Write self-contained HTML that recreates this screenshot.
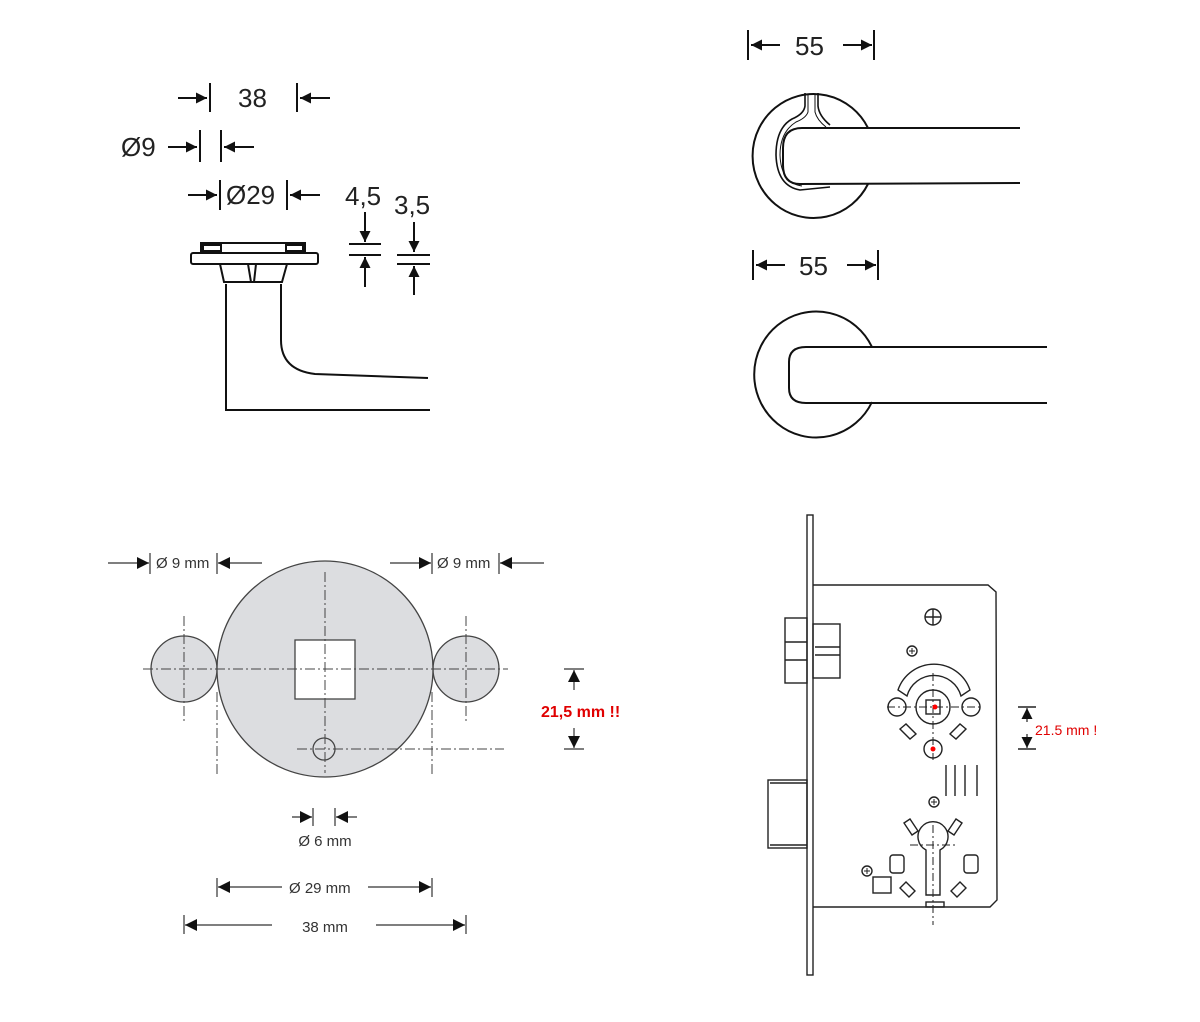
<!DOCTYPE html>
<html><head><meta charset="utf-8"><style>
html,body{margin:0;padding:0;background:#fff;}
svg{display:block;}
text{font-family:"Liberation Sans","DejaVu Sans",sans-serif;}
</style></head><body>
<svg width="1200" height="1022" viewBox="0 0 1200 1022" xmlns="http://www.w3.org/2000/svg">
<defs>
<marker id="a" viewBox="0 0 10 10" refX="10" refY="5" markerWidth="12" markerHeight="11" markerUnits="userSpaceOnUse" orient="auto"><path d="M0,0 L10,5 L0,10z" fill="#111"/></marker>
<marker id="b" viewBox="0 0 10 10" refX="10" refY="5" markerWidth="14" markerHeight="12" markerUnits="userSpaceOnUse" orient="auto"><path d="M0,0 L10,5 L0,10z" fill="#111"/></marker>
</defs>

<!-- TOP LEFT -->
<g stroke="#111" stroke-width="2" fill="none">
<line x1="178" y1="98" x2="207" y2="98" marker-end="url(#a)"/>
<line x1="210" y1="83" x2="210" y2="112"/>
<line x1="297" y1="83" x2="297" y2="112"/>
<line x1="330" y1="98" x2="300" y2="98" marker-end="url(#a)"/>
<line x1="168" y1="147" x2="197" y2="147" marker-end="url(#a)"/>
<line x1="200" y1="130" x2="200" y2="162"/>
<line x1="221" y1="130" x2="221" y2="162"/>
<line x1="254" y1="147" x2="224" y2="147" marker-end="url(#a)"/>
<line x1="188" y1="195" x2="217" y2="195" marker-end="url(#a)"/>
<line x1="220" y1="180" x2="220" y2="210"/>
<line x1="287" y1="180" x2="287" y2="210"/>
<line x1="320" y1="195" x2="290" y2="195" marker-end="url(#a)"/>
<line x1="365" y1="212" x2="365" y2="242" marker-end="url(#a)"/>
<line x1="349" y1="244" x2="381" y2="244"/>
<line x1="349" y1="255" x2="381" y2="255"/>
<line x1="365" y1="287" x2="365" y2="257" marker-end="url(#a)"/>
<line x1="414" y1="222" x2="414" y2="252" marker-end="url(#a)"/>
<line x1="397" y1="255" x2="430" y2="255"/>
<line x1="397" y1="264" x2="430" y2="264"/>
<line x1="414" y1="295" x2="414" y2="266" marker-end="url(#a)"/>
<rect x="201" y="243" width="104" height="10"/>
<rect x="203" y="245" width="18" height="6"/>
<rect x="286" y="245" width="17" height="6"/>
<rect x="191" y="253" width="127" height="11" rx="2"/>
<path d="M220,264 L224,282 L282,282 L287,264"/>
<path d="M248,264 L251,282 M256,264 L254,282"/>
<path d="M226,284 L226,410 L430,410"/>
<path d="M281,284 L281,340 Q281,370 315,374 L428,378"/>
</g>
<g font-size="26" fill="#222">
<text x="238" y="107">38</text>
<text x="121" y="156">Ø9</text>
<text x="226" y="204">Ø29</text>
<text x="345" y="205">4,5</text>
<text x="394" y="214">3,5</text>
</g>

<!-- TOP RIGHT -->
<g stroke="#111" stroke-width="2" fill="none">
<line x1="748" y1="30" x2="748" y2="60"/>
<line x1="780" y1="45" x2="751" y2="45" marker-end="url(#a)"/>
<line x1="843" y1="45" x2="872" y2="45" marker-end="url(#a)"/>
<line x1="874" y1="30" x2="874" y2="60"/>
<path d="M868,128 A61,62 0 1 0 868,184"/>
<path d="M1020,128 L802,128 Q783,128 783,148 L783,165 Q783,184 800,184 L1020,183"/>
<path d="M805,93 L805,106 Q804,114 792,119 Q776,128 776,155 Q777,186 800,190 L830,187" stroke-width="1.6"/>
<path d="M818,93 L818,106 Q819,116 830,125" stroke-width="1.6"/>
<path d="M808,94 L808,112 Q806,118 796,122 Q780,132 780,155 Q781,183 802,186" stroke-width="1"/>
<path d="M815,94 L815,112 Q817,120 826,127" stroke-width="1"/>
<line x1="753" y1="250" x2="753" y2="280"/>
<line x1="785" y1="265" x2="756" y2="265" marker-end="url(#a)"/>
<line x1="847" y1="265" x2="876" y2="265" marker-end="url(#a)"/>
<line x1="878" y1="250" x2="878" y2="280"/>
<path d="M872,347 A62,63 0 1 0 872,402"/>
<path d="M1047,347 L806,347 Q789,347 789,362 L789,388 Q789,403 806,403 L1047,403"/>
</g>
<g font-size="26" fill="#222">
<text x="795" y="55">55</text>
<text x="799" y="275">55</text>
</g>

<!-- BOTTOM LEFT -->
<g stroke="#444" stroke-width="1.3" fill="#dcdde0">
<circle cx="184" cy="669" r="33"/>
<circle cx="466" cy="669" r="33"/>
<circle cx="325" cy="669" r="108"/>
<rect x="295" y="640" width="60" height="59" fill="#fff"/>
<circle cx="324" cy="749" r="11" fill="none"/>
</g>
<g stroke="#444" stroke-width="1" fill="none" stroke-dasharray="10,3,2,3">
<line x1="143" y1="669" x2="508" y2="669"/>
<line x1="325" y1="572" x2="325" y2="773"/>
<line x1="184" y1="616" x2="184" y2="723"/>
<line x1="466" y1="616" x2="466" y2="723"/>
<line x1="217" y1="692" x2="217" y2="777"/>
<line x1="432" y1="692" x2="432" y2="777"/>
<line x1="297" y1="749" x2="504" y2="749"/>
</g>
<g stroke="#333" stroke-width="1.2" fill="none">
<line x1="108" y1="563" x2="149" y2="563" marker-end="url(#b)"/>
<line x1="150" y1="553" x2="150" y2="574"/>
<line x1="217" y1="553" x2="217" y2="574"/>
<line x1="262" y1="563" x2="218" y2="563" marker-end="url(#b)"/>
<line x1="390" y1="563" x2="431" y2="563" marker-end="url(#b)"/>
<line x1="432" y1="553" x2="432" y2="574"/>
<line x1="499" y1="553" x2="499" y2="574"/>
<line x1="544" y1="563" x2="500" y2="563" marker-end="url(#b)"/>
<line x1="564" y1="669" x2="584" y2="669"/>
<line x1="564" y1="749" x2="584" y2="749"/>
<line x1="574" y1="690" x2="574" y2="670" marker-end="url(#b)"/>
<line x1="574" y1="728" x2="574" y2="748" marker-end="url(#b)"/>
<line x1="292" y1="817" x2="312" y2="817" marker-end="url(#b)"/>
<line x1="313" y1="808" x2="313" y2="826"/>
<line x1="335" y1="808" x2="335" y2="826"/>
<line x1="357" y1="817" x2="336" y2="817" marker-end="url(#b)"/>
<line x1="217" y1="878" x2="217" y2="897"/>
<line x1="282" y1="887" x2="218" y2="887" marker-end="url(#b)"/>
<line x1="368" y1="887" x2="431" y2="887" marker-end="url(#b)"/>
<line x1="432" y1="878" x2="432" y2="897"/>
<line x1="184" y1="915" x2="184" y2="934"/>
<line x1="272" y1="925" x2="185" y2="925" marker-end="url(#b)"/>
<line x1="376" y1="925" x2="465" y2="925" marker-end="url(#b)"/>
<line x1="466" y1="915" x2="466" y2="934"/>
</g>
<g font-size="15" fill="#333">
<text x="156" y="568">Ø 9 mm</text>
<text x="437" y="568">Ø 9 mm</text>
<text x="325" y="846" text-anchor="middle">Ø 6 mm</text>
<text x="289" y="893">Ø  29 mm</text>
<text x="325" y="932" text-anchor="middle">38 mm</text>
</g>
<text x="541" y="717" font-size="16" font-weight="bold" fill="#e00000">21,5 mm !!</text>

<!-- BOTTOM RIGHT: lock -->
<g stroke="#222" stroke-width="1.4" fill="none">
<rect x="807" y="515" width="6" height="460"/>
<path d="M813,585 L988,585 L996,592 L997,900 L990,907 L813,907"/>
<rect x="785" y="618" width="22" height="65"/>
<line x1="785" y1="642" x2="807" y2="642"/><line x1="785" y1="660" x2="807" y2="660"/>
<rect x="813" y="624" width="27" height="54"/>
<line x1="815" y1="647" x2="840" y2="647"/><line x1="815" y1="655" x2="840" y2="655"/>
<rect x="768" y="780" width="39" height="68"/>
<line x1="770" y1="783" x2="807" y2="783"/><line x1="770" y1="845" x2="807" y2="845"/>
<circle cx="933" cy="617" r="8"/><path d="M925,617 H941 M933,609 V625"/>
<circle cx="912" cy="651" r="5"/><path d="M909,651 h6 M912,648 v6" stroke-width="1"/>
<circle cx="934" cy="802" r="5"/><path d="M931,802 h6 M934,799 v6" stroke-width="1"/>
<circle cx="867" cy="871" r="5"/><path d="M864,871 h6 M867,868 v6" stroke-width="1"/>
<rect x="873" y="877" width="18" height="16"/>
<path d="M898,690 A38,38 0 0 1 970,690 L961,696 A28,28 0 0 0 907,696 Z"/>
<circle cx="933" cy="707" r="17"/>
<rect x="926" y="700" width="14" height="14"/>
<circle cx="897" cy="707" r="9"/><circle cx="971" cy="707" r="9"/>
<circle cx="933" cy="749" r="9"/>
<path d="M900,729 l6,-5 l10,10 l-6,5z M966,729 l-6,-5 l-10,10 l6,5z"/>
<path d="M946,765 V796 M955,765 V796 M965,765 V796 M977,765 V796"/>
<path d="M926,895 L926,850 A15,15 0 1 1 940,850 L940,895 Z"/>
<path d="M904,823 l6,-4 l8,12 l-6,4z M962,823 l-6,-4 l-8,12 l6,4z"/>
<rect x="890" y="855" width="14" height="18" rx="3"/>
<rect x="964" y="855" width="14" height="18" rx="3"/>
<path d="M900,888 l6,-6 l9,9 l-6,6z M966,888 l-6,-6 l-9,9 l6,6z"/>
<rect x="926" y="902" width="18" height="5"/>
<line x1="1018" y1="707" x2="1036" y2="707"/>
<line x1="1018" y1="749" x2="1036" y2="749"/>
</g>
<g stroke="#222" stroke-width="1" fill="none" stroke-dasharray="8,3,2,3">
<line x1="887" y1="707" x2="982" y2="707"/>
<line x1="933" y1="673" x2="933" y2="760"/>
<line x1="910" y1="845" x2="958" y2="845"/>
<line x1="933" y1="825" x2="933" y2="925"/>
</g>
<circle cx="935" cy="707" r="2.5" fill="#f00"/>
<circle cx="933" cy="749" r="2.5" fill="#f00"/>
<g stroke="#222" stroke-width="1.2">
<line x1="1027" y1="722" x2="1027" y2="708" marker-end="url(#a)"/>
<line x1="1027" y1="734" x2="1027" y2="748" marker-end="url(#a)"/>
</g>
<text x="1035" y="735" font-size="14" fill="#e00000">21.5 mm !</text>
</svg>
</body></html>
